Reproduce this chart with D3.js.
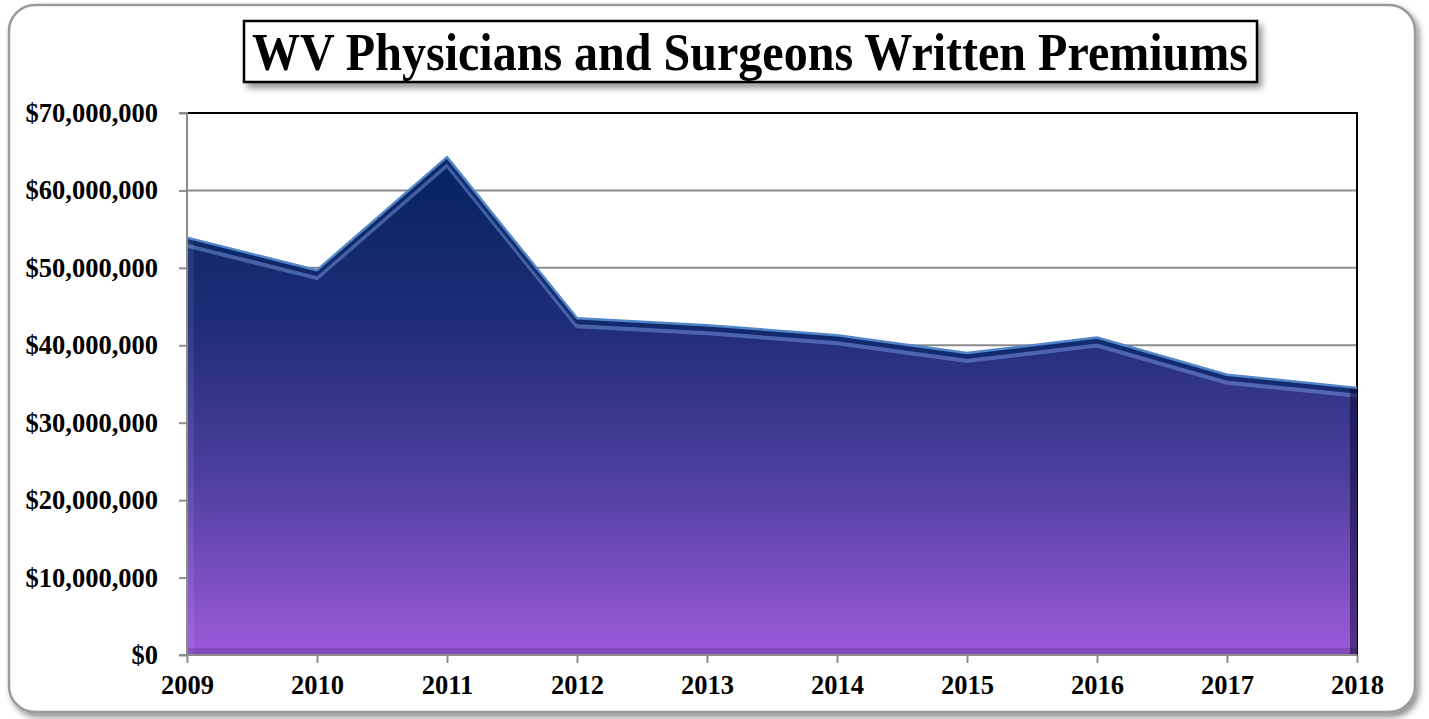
<!DOCTYPE html>
<html>
<head>
<meta charset="utf-8">
<script src="https://cdn.jsdelivr.net/npm/d3@7/dist/d3.min.js"></script>
<style>
  html, body { margin: 0; padding: 0; background: #ffffff; }
  svg { display: block; }
</style>
</head>
<body>
<svg id="chart" width="1429" height="719"></svg>
<script>
// Written premiums by year (USD)
const years = ["2009","2010","2011","2012","2013","2014","2015","2016","2017","2018"];
const premiums = [53900000, 49700000, 64300000, 43500000, 42600000, 41300000, 39000000, 41000000, 36200000, 34500000];
const yTicks = [0, 10000000, 20000000, 30000000, 40000000, 50000000, 60000000, 70000000];
const titleText = "WV Physicians and Surgeons Written Premiums";

const svg = d3.select("#chart");
const m = { left: 187, right: 1357, top: 113, bottom: 655 };
const serif = "'Liberation Serif', 'Times New Roman', serif";

const defs = svg.append("defs");

// drop shadows for the outer card and the title box
const sh = defs.append("filter").attr("id", "shadow").attr("x", "-5%").attr("y", "-5%").attr("width", "110%").attr("height", "115%");
sh.append("feDropShadow").attr("dx", 3).attr("dy", 4).attr("stdDeviation", 3).attr("flood-color", "#000").attr("flood-opacity", 0.45);

const sh2 = defs.append("filter").attr("id", "tshadow").attr("x", "-5%").attr("y", "-20%").attr("width", "110%").attr("height", "150%");
sh2.append("feDropShadow").attr("dx", 4).attr("dy", 5).attr("stdDeviation", 3).attr("flood-color", "#000").attr("flood-opacity", 0.4);

// vertical gradient of the area fill
const grad = defs.append("linearGradient").attr("id", "areaGrad")
  .attr("gradientUnits", "userSpaceOnUse")
  .attr("x1", 0).attr("y1", 150).attr("x2", 0).attr("y2", m.bottom);
grad.append("stop").attr("offset", "0%").attr("stop-color", "#03235f");
grad.append("stop").attr("offset", "35%").attr("stop-color", "#1f2d78");
grad.append("stop").attr("offset", "65%").attr("stop-color", "#4e3f9e");
grad.append("stop").attr("offset", "100%").attr("stop-color", "#9d5ad9");

// outer rounded card
svg.append("rect")
  .attr("x", 9).attr("y", 5).attr("width", 1406).attr("height", 707)
  .attr("rx", 26).attr("ry", 26)
  .attr("fill", "#ffffff").attr("stroke", "#9a9a9a").attr("stroke-width", 2.5)
  .attr("filter", "url(#shadow)");

const x = d3.scalePoint().domain(years).range([m.left, m.right]);
const y = d3.scaleLinear().domain([0, 70000000]).range([m.bottom, m.top]);

// gridlines
svg.append("g")
  .selectAll("line")
  .data(yTicks.filter(d => d > 0 && d < 70000000))
  .join("line")
  .attr("x1", m.left).attr("x2", m.right)
  .attr("y1", d => y(d)).attr("y2", d => y(d))
  .attr("stroke", "#8c8c8c").attr("stroke-width", 2);

// plot frame top and right
svg.append("path")
  .attr("d", `M${m.left},${y(70000000)}H${m.right}V${m.bottom}`)
  .attr("fill", "none").attr("stroke", "#000").attr("stroke-width", 2);

// area
const area = d3.area()
  .x((d, i) => x(years[i]))
  .y0(m.bottom)
  .y1(d => y(d));
const line = d3.line()
  .x((d, i) => x(years[i]))
  .y(d => y(d));

defs.append("clipPath").attr("id", "areaClip")
  .append("path").attr("d", area(premiums));

svg.append("path")
  .attr("d", area(premiums))
  .attr("fill", "url(#areaGrad)");

const bevel = svg.append("g").attr("clip-path", "url(#areaClip)");
// inner bevel highlight a few pixels under the top edge
bevel.append("path")
  .attr("d", line(premiums))
  .attr("transform", "translate(0,8)")
  .attr("fill", "none").attr("stroke", "#6f8fd6").attr("stroke-opacity", 0.55).attr("stroke-width", 4);
bevel.append("path")
  .attr("d", line(premiums))
  .attr("transform", "translate(0,3)")
  .attr("fill", "none").attr("stroke", "#0a2a66").attr("stroke-opacity", 0.7).attr("stroke-width", 5);
// left, bottom and right inner edges
bevel.append("rect").attr("x", m.left).attr("y", m.top).attr("width", 7).attr("height", m.bottom - m.top)
  .attr("fill", "#ffffff").attr("opacity", 0.08);
bevel.append("rect").attr("x", m.left).attr("y", m.bottom - 7).attr("width", m.right - m.left).attr("height", 7)
  .attr("fill", "#3a1a6a").attr("opacity", 0.25);
bevel.append("rect").attr("x", m.right - 7).attr("y", m.top).attr("width", 7).attr("height", m.bottom - m.top)
  .attr("fill", "#000020").attr("opacity", 0.45);

// top edge light line
svg.append("path")
  .attr("d", line(premiums))
  .attr("fill", "none").attr("stroke", "#5286c8").attr("stroke-width", 2.5)
  .attr("stroke-linejoin", "round");

// axes
const yAxis = d3.axisLeft(y).tickValues(yTicks).tickSize(8).tickPadding(21)
  .tickFormat(d => "$" + d3.format(",")(d));
const gy = svg.append("g").attr("transform", `translate(${m.left},0)`).call(yAxis);
gy.select(".domain").attr("stroke", "#8c8c8c").attr("stroke-width", 2).attr("d", `M-8,${m.top}H0V${m.bottom}H-8`);
gy.selectAll(".tick line").attr("stroke", "#8c8c8c").attr("stroke-width", 2);
gy.selectAll(".tick text")
  .attr("font-family", serif)
  .attr("font-weight", "bold").attr("font-size", 26.5).attr("fill", "#000");

const xAxis = d3.axisBottom(x).tickSize(8).tickPadding(12);
const gx = svg.append("g").attr("transform", `translate(0,${m.bottom})`).call(xAxis);
gx.select(".domain").attr("stroke", "#8c8c8c").attr("stroke-width", 2).attr("d", `M${m.left},0H${m.right}`);
gx.selectAll(".tick line").attr("stroke", "#8c8c8c").attr("stroke-width", 2);
gx.selectAll(".tick text")
  .attr("font-family", serif)
  .attr("font-weight", "bold").attr("font-size", 26.5).attr("fill", "#000");

// title box
const tg = svg.append("g");
tg.append("rect")
  .attr("x", 244).attr("y", 21).attr("width", 1013).attr("height", 61)
  .attr("fill", "#fff").attr("stroke", "#000").attr("stroke-width", 2.5)
  .attr("filter", "url(#tshadow)");
tg.append("text")
  .attr("x", 750).attr("y", 70)
  .attr("text-anchor", "middle")
  .attr("font-family", serif)
  .attr("font-weight", "bold").attr("font-size", 53)
  .attr("textLength", 996).attr("lengthAdjust", "spacingAndGlyphs")
  .attr("fill", "#000")
  .text(titleText);
</script>
</body>
</html>
